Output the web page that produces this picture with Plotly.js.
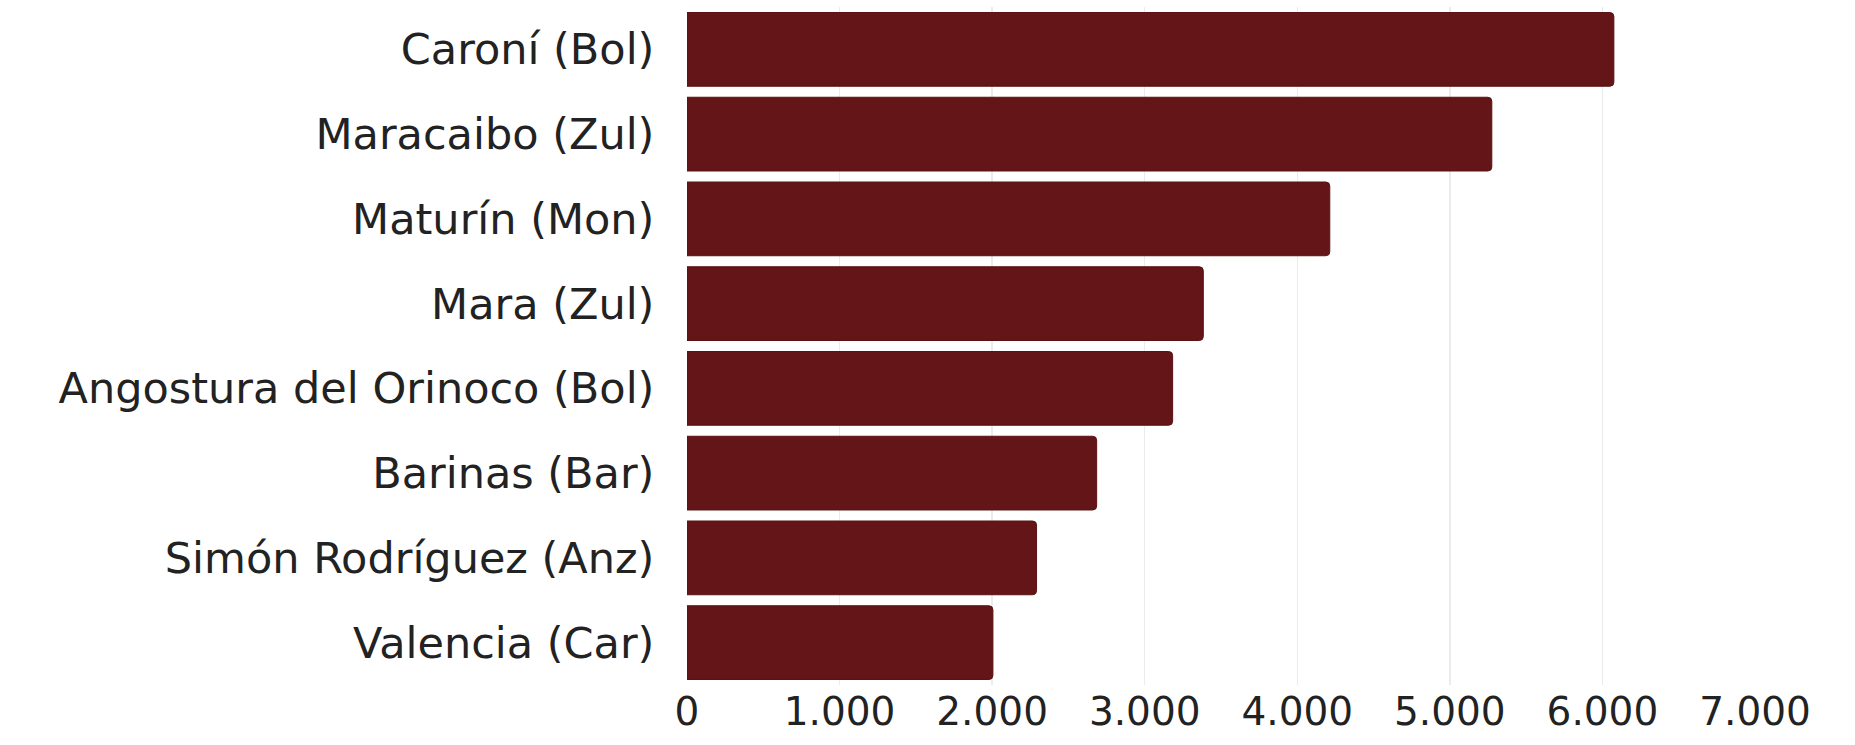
<!DOCTYPE html>
<html>
<head>
<meta charset="utf-8">
<script src="https://cdn.plot.ly/plotly-3.0.1.min.js"></script>
<style>html,body{margin:0;padding:0;background:#fff;}#chart{width:1855px;height:745px;}</style>
</head>
<body>
<div id="chart"></div>
<script>
const categories = ["Caroní (Bol)", "Maracaibo (Zul)", "Maturín (Mon)", "Mara (Zul)", "Angostura del Orinoco (Bol)", "Barinas (Bar)", "Simón Rodríguez (Anz)", "Valencia (Car)"];
const values = [6075, 5275, 4213, 3384, 3183, 2685, 2291, 2005];
const xTickValues = [0, 1000, 2000, 3000, 4000, 5000, 6000, 7000];

const trace = {
  type: 'bar',
  orientation: 'h',
  y: categories,
  x: values,
  marker: {color: '#631517', cornerradius: 4, line: {color: '#5a1214', width: 1}},
  hoverinfo: 'none'
};

const layout = {
  width: 1855, height: 745,
  margin: {l: 687, r: 100, t: 7, b: 60},
  paper_bgcolor: '#ffffff', plot_bgcolor: '#ffffff',
  separators: ',.',
  font: {family: 'DejaVu Sans, sans-serif', size: 43, color: '#222222'},
  bargap: 0.13,
  showlegend: false,
  xaxis: {
    range: [0, 7000],
    tickvals: xTickValues,
    tickformat: ',d',
    showgrid: true, gridcolor: '#ebebeb', gridwidth: 1.5,
    zeroline: false, showline: false,
    ticks: '',
    tickfont: {size: 39, color: '#222222'},
    fixedrange: true
  },
  yaxis: {
    autorange: 'reversed',
    showgrid: false, zeroline: false, showline: false,
    ticks: 'outside', ticklen: 23, tickcolor: 'rgba(0,0,0,0)',
    tickfont: {size: 43, color: '#222222'},
    fixedrange: true
  }
};

Plotly.newPlot('chart', [trace], layout, {displayModeBar: false, staticPlot: true});
</script>
</body>
</html>
